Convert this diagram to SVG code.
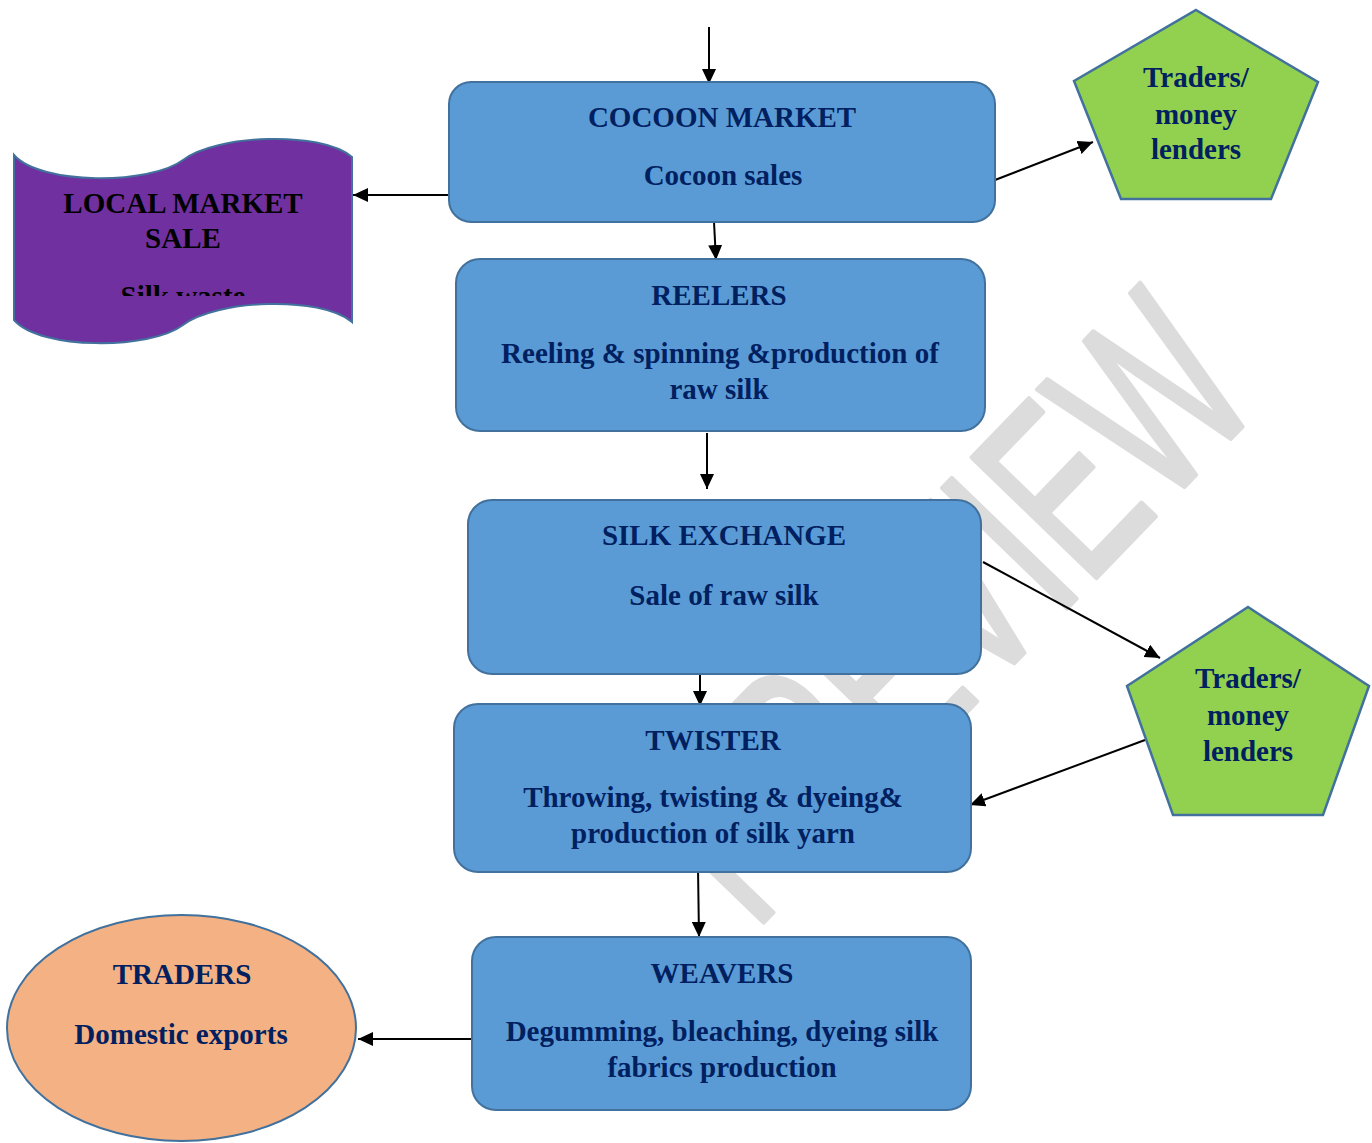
<svg xmlns="http://www.w3.org/2000/svg" width="1372" height="1143" viewBox="0 0 1372 1143">
<style>
.box{fill:#5B9BD5;stroke:#41719C;stroke-width:2}
.pent{fill:#92D050;stroke:#41719C;stroke-width:2.5}
.t{font-family:"Liberation Serif","Times New Roman",serif;font-weight:bold;font-size:29px;fill:#002060;text-anchor:middle}
.tb{font-family:"Liberation Serif","Times New Roman",serif;font-weight:bold;font-size:29px;fill:#000000;text-anchor:middle}
.c{stroke:#000;stroke-width:2;fill:none;marker-end:url(#ah)}
.wm{font-family:"Liberation Sans",Arial,sans-serif;font-size:251px;fill:#DCDCDC;stroke:#DCDCDC;stroke-width:5;stroke-linejoin:round}
</style>
<defs>
<marker id="ah" markerUnits="userSpaceOnUse" markerWidth="16" markerHeight="14" refX="15" refY="7" orient="auto">
<path d="M0,0 L15,7 L0,14 z" fill="#000"/>
</marker>
<clipPath id="clipLocal"><rect x="14" y="140" width="338" height="156"/></clipPath>
</defs>
<rect width="1372" height="1143" fill="#ffffff"/>
<g id="watermark">
<text class="wm" transform="translate(754,932) rotate(-46) scale(0.636,1)">PREVIEW</text>
</g>
<g id="connectors">
<line class="c" x1="709" y1="27" x2="709" y2="84"/>
<line class="c" x1="449" y1="195" x2="353" y2="195"/>
<line class="c" x1="995" y1="180" x2="1093" y2="142"/>
<line class="c" x1="714" y1="222" x2="716" y2="260"/>
<line class="c" x1="707" y1="433" x2="707" y2="489"/>
<line class="c" x1="983" y1="562" x2="1160" y2="658"/>
<line class="c" x1="700" y1="674" x2="700" y2="706"/>
<line class="c" x1="1145" y1="740" x2="970" y2="805"/>
<line class="c" x1="698" y1="868" x2="699" y2="937"/>
<line class="c" x1="472" y1="1039" x2="358" y2="1039"/>
</g>
<g id="cocoon-market">
<rect class="box" x="449" y="82" width="546" height="140" rx="22"/>
<text class="t" x="722" y="127">COCOON MARKET</text>
<text class="t" x="723" y="185">Cocoon sales</text>
</g>
<g id="local-market">
<path d="M14,155 C40,185 150,185 183,160 C215,135 320,130 352,157 L352,322 C320,295 215,300 183,325 C150,350 40,350 14,320 Z" fill="#7030A0" stroke="#41719C" stroke-width="2"/>
<text class="tb" x="183" y="213">LOCAL MARKET</text>
<text class="tb" x="183" y="248">SALE</text>
<text class="tb" x="183" y="306" clip-path="url(#clipLocal)">Silk waste</text>
</g>
<g id="traders-top">
<polygon class="pent" points="1196,10 1318,82 1271,199 1121,199 1074,81"/>
<text class="t" x="1196" y="87">Traders/</text>
<text class="t" x="1196" y="124">money</text>
<text class="t" x="1196" y="159">lenders</text>
</g>
<g id="reelers">
<rect class="box" x="456" y="259" width="529" height="172" rx="24"/>
<text class="t" x="719" y="305">REELERS</text>
<text class="t" x="720" y="363">Reeling &amp; spinning &amp;production of</text>
<text class="t" x="719" y="399">raw silk</text>
</g>
<g id="silk-exchange">
<rect class="box" x="468" y="500" width="513" height="174" rx="24"/>
<text class="t" x="724" y="545">SILK EXCHANGE</text>
<text class="t" x="724" y="605">Sale of raw silk</text>
</g>
<g id="traders-mid">
<polygon class="pent" points="1248,607 1369,686 1323,815 1173,815 1127,686"/>
<text class="t" x="1248" y="688">Traders/</text>
<text class="t" x="1248" y="725">money</text>
<text class="t" x="1248" y="761">lenders</text>
</g>
<g id="twister">
<rect class="box" x="454" y="704" width="517" height="168" rx="24"/>
<text class="t" x="713" y="750">TWISTER</text>
<text class="t" x="713" y="807">Throwing, twisting &amp; dyeing&amp;</text>
<text class="t" x="713" y="843">production of silk yarn</text>
</g>
<g id="weavers">
<rect class="box" x="472" y="937" width="499" height="173" rx="24"/>
<text class="t" x="722" y="983">WEAVERS</text>
<text class="t" x="722" y="1041">Degumming, bleaching, dyeing silk</text>
<text class="t" x="722" y="1077">fabrics production</text>
</g>
<g id="traders-export">
<ellipse cx="181.5" cy="1028" rx="174.5" ry="113" fill="#F4B183" stroke="#41719C" stroke-width="2"/>
<text class="t" x="182" y="984">TRADERS</text>
<text class="t" x="181" y="1044">Domestic exports</text>
</g>
</svg>
